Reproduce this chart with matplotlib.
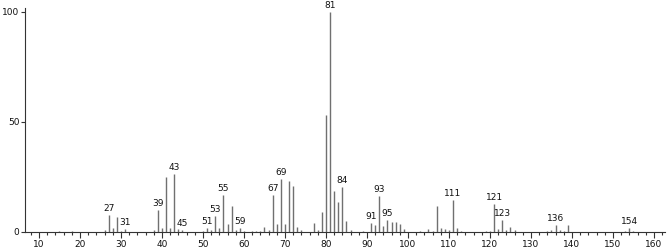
import matplotlib
matplotlib.use("Agg")
import matplotlib.pyplot as plt
from matplotlib.ticker import MultipleLocator

# m/z and relative intensity
mz = [15, 18, 26, 27, 28, 29, 30, 31, 38, 39, 40, 41, 42, 43, 44, 45,
      50, 51, 52, 53, 54, 55, 56, 57, 58, 59, 60, 62, 63, 64, 65, 66,
      67, 68, 69, 70, 71, 72, 73, 74, 77, 78, 79, 80, 81, 82, 83, 84,
      85, 86, 89, 91, 92, 93, 94, 95, 96, 97, 98, 99, 103, 105, 106,
      107, 108, 109, 110, 111, 112, 113, 119, 120, 121, 122, 123, 124,
      125, 126, 134, 135, 136, 137, 138, 139, 153, 154, 155]
intensity = [0.5, 0.5, 1.0, 7.7, 1.8, 7.0, 0.6, 1.4, 0.8, 10.0, 1.8, 24.8, 1.9, 26.2, 1.3, 1.0,
             0.6, 1.7, 0.8, 7.3, 2.0, 16.8, 3.6, 12.0, 1.0, 1.8, 0.5, 0.6, 0.5, 0.6, 2.2, 1.0,
             16.8, 3.5, 24.0, 3.7, 23.2, 21.0, 2.4, 0.8, 4.2, 1.0, 9.2, 53.0, 100.0, 18.8, 13.8, 20.6,
             5.0, 0.8, 0.5, 4.2, 3.2, 16.4, 2.9, 5.5, 4.6, 4.6, 3.8, 1.2, 0.5, 1.2, 0.6,
             12.0, 2.0, 1.5, 0.8, 14.5, 1.8, 0.6, 0.6, 0.5, 12.6, 1.5, 5.5, 0.8,
             2.4, 0.8, 0.5, 0.8, 3.2, 1.0, 0.6, 3.2, 0.6, 1.8, 0.5]
labelled = [27, 31, 39, 43, 45, 51, 53, 55, 59, 67, 69, 81, 84, 91, 93, 95,
            111, 121, 123, 136, 154]

fig = plt.figure(figsize=(6.67, 2.49), dpi=100)
ax = fig.add_axes([0.0375, 0.0683, 0.9595, 0.8996])

ax.vlines(mz, 0, intensity, colors="#707070", linewidth=1.0)

for m, h in zip(mz, intensity):
    if m in labelled:
        ax.annotate(str(m), (m, h), xytext=(0, 1.5), textcoords="offset points",
                    ha="center", va="bottom", fontsize=6.5, color="#111111")

ax.set_xlim(6.6, 162.7)
ax.set_ylim(0, 101.8)
ax.xaxis.set_major_locator(MultipleLocator(10))
ax.xaxis.set_minor_locator(MultipleLocator(2))
ax.set_yticks([0, 50, 100])

for s in ["top", "right"]:
    ax.spines[s].set_visible(False)
for s in ["left", "bottom"]:
    ax.spines[s].set_color("#333333")
    ax.spines[s].set_linewidth(0.8)

ax.tick_params(axis="x", which="major", length=4, width=0.8, pad=1.5,
               labelsize=6.5, colors="#333333")
ax.tick_params(axis="x", which="minor", length=2.5, width=0.8, colors="#333333")
ax.tick_params(axis="y", which="major", length=3, width=0.8, pad=1,
               labelsize=6.5, colors="#333333")
ax.tick_params(axis="both", labelcolor="#111111")

fig.savefig("out.png", dpi=100)
